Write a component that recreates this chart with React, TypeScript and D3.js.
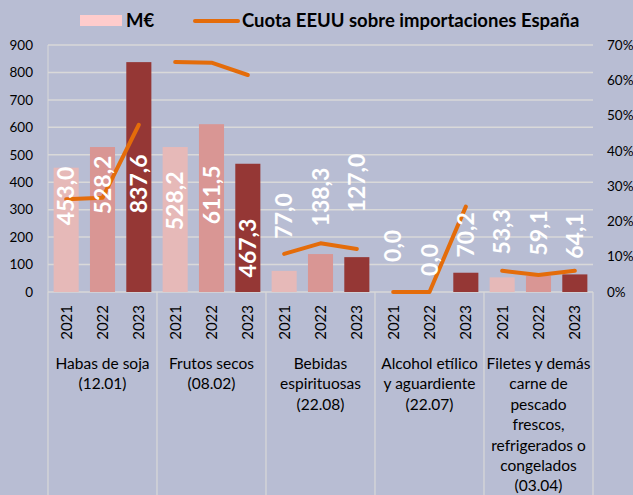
import * as d3 from "d3";

// categories (multi-line labels)
const categories = [
  ["Habas de soja", "(12.01)"],
  ["Frutos secos", "(08.02)"],
  ["Bebidas", "espirituosas", "(22.08)"],
  ["Alcohol etílico", "y aguardiente", "(22.07)"],
  ["Filetes y demás", "carne de", "pescado", "frescos,", "refrigerados o", "congelados", "(03.04)"],
];
const years = ["2021", "2022", "2023"];

// M€ per category, per year
const meur = [
  [453.0, 528.2, 837.6],
  [528.2, 611.5, 467.3],
  [77.0, 138.3, 127.0],
  [0.0, 0.0, 70.2],
  [53.3, 59.1, 64.1],
];

// Cuota EEUU sobre importaciones España (%)
const cuota = [
  [26.3, 26.7, 47.4],
  [65.2, 65.0, 61.5],
  [10.8, 13.8, 12.2],
  [0.0, 0.0, 24.2],
  [6.0, 4.8, 6.0],
];

// where each value label sits, in M€ units of the left axis
const labelAt = [
  [350, 390, 394],
  [332, 354, 160],
  [277, 346, 397],
  [168, 117, 208],
  [219, 215, 204],
];

const leftTicks = [0, 100, 200, 300, 400, 500, 600, 700, 800, 900];
const rightTicks = [0, 10, 20, 30, 40, 50, 60, 70];

const W = 633;
const H = 495;
const bg = "#b8bdd3";
const grid = "#d9d9d9";
const barColors = ["#e6b9b8", "#d99694", "#953735"];
const lineColor = "#e46c0a";
const font = "Lato, 'DejaVu Sans', sans-serif";

export default function App() {
  const left = 48, right = 593, top = 45, bottom = 292;

  const x0 = d3.scaleBand<number>().domain(d3.range(categories.length)).range([left, right]);
  const x1 = d3.scaleBand<string>().domain(years).range([0, x0.bandwidth()]);
  const y = d3.scaleLinear().domain([0, 900]).range([bottom, top]);
  const yr = d3.scaleLinear().domain([0, 70]).range([bottom, top]);
  const barW = x1.bandwidth() * 0.69;
  const cx = (c: number, yr_: string) => (x0(c) as number) + (x1(yr_) as number) + x1.bandwidth() / 2;
  const fmt = (v: number) => d3.format(".1f")(v).replace(".", ",");

  const line = d3
    .line<[number, number]>()
    .x((d) => d[0])
    .y((d) => d[1]);

  return (
    <svg
      width={W}
      height={H}
      style={{ position: "absolute", left: 0, top: 0, display: "block" }}
      fontFamily={font}
    >
      <rect x={0} y={0} width={W} height={H} fill={bg} />

      {/* legend */}
      <rect x={80} y={15} width={42} height={11} fill="#ffcccc" />
      <text x={126} y={27} fontSize={18.5} fontWeight={700} fill="#000">M€</text>
      <line x1={195} x2={238} y1={21} y2={21} stroke={lineColor} strokeWidth={4} strokeLinecap="round" />
      <text x={242} y={27} fontSize={18.5} fontWeight={700} fill="#000">
        Cuota EEUU sobre importaciones España
      </text>

      {/* gridlines */}
      {leftTicks.map((t) => (
        <line key={t} x1={left} x2={right} y1={y(t)} y2={y(t)} stroke={grid} strokeWidth={1.5} />
      ))}
      <line x1={left} x2={left} y1={top} y2={bottom} stroke={grid} strokeWidth={1} />

      {/* left axis */}
      {leftTicks.map((t) => (
        <text key={t} x={33} y={y(t)} dy="0.35em" textAnchor="end" fontSize={13.5} fill="#000">
          {t}
        </text>
      ))}
      {/* right axis */}
      {rightTicks.map((t) => (
        <text key={t} x={607} y={yr(t)} dy="0.35em" textAnchor="start" fontSize={13.5} fill="#000">
          {t}%
        </text>
      ))}

      {/* bars */}
      {meur.map((vals, c) =>
        vals.map((v, i) => (
          <rect
            key={`${c}-${i}`}
            x={cx(c, years[i]) - barW / 2}
            y={y(v)}
            width={barW}
            height={bottom - y(v)}
            fill={barColors[i]}
          />
        ))
      )}

      {/* category separators below axis */}
      {d3.range(categories.length + 1).map((c) => {
        const xx = c < categories.length ? (x0(c) as number) : right;
        return <line key={c} x1={xx} x2={xx} y1={bottom} y2={H} stroke={grid} strokeWidth={1.2} />;
      })}

      {/* share line, one segment per category */}
      {cuota.map((vals, c) => (
        <path
          key={c}
          d={line(vals.map((v, i) => [cx(c, years[i]), yr(v)] as [number, number])) || ""}
          fill="none"
          stroke={lineColor}
          strokeWidth={4}
          strokeLinecap="round"
          strokeLinejoin="round"
        />
      ))}

      {/* value labels */}
      {meur.map((vals, c) =>
        vals.map((v, i) => {
          const px = cx(c, years[i]);
          const py = y(labelAt[c][i]);
          return (
            <text
              key={`${c}-${i}`}
              transform={`translate(${px},${py}) rotate(-90)`}
              textAnchor="middle"
              dy="0.36em"
              fontSize={23}
              fontWeight={700}
              fill="#fff"
            >
              {fmt(v)}
            </text>
          );
        })
      )}

      {/* year labels */}
      {meur.map((vals, c) =>
        years.map((yy) => (
          <text
            key={`${c}-${yy}`}
            transform={`translate(${cx(c, yy)},${305}) rotate(-90)`}
            textAnchor="end"
            dy="0.36em"
            fontSize={15}
            fill="#000"
          >
            {yy}
          </text>
        ))
      )}

      {/* category labels */}
      {categories.map((lines, c) => (
        <text
          key={c}
          x={(x0(c) as number) + x0.bandwidth() / 2}
          y={369}
          textAnchor="middle"
          fontSize={15.5}
          fill="#000"
        >
          {lines.map((l, k) => (
            <tspan key={k} x={(x0(c) as number) + x0.bandwidth() / 2} dy={k === 0 ? 0 : 20.4}>
              {l}
            </tspan>
          ))}
        </text>
      ))}
    </svg>
  );
}
